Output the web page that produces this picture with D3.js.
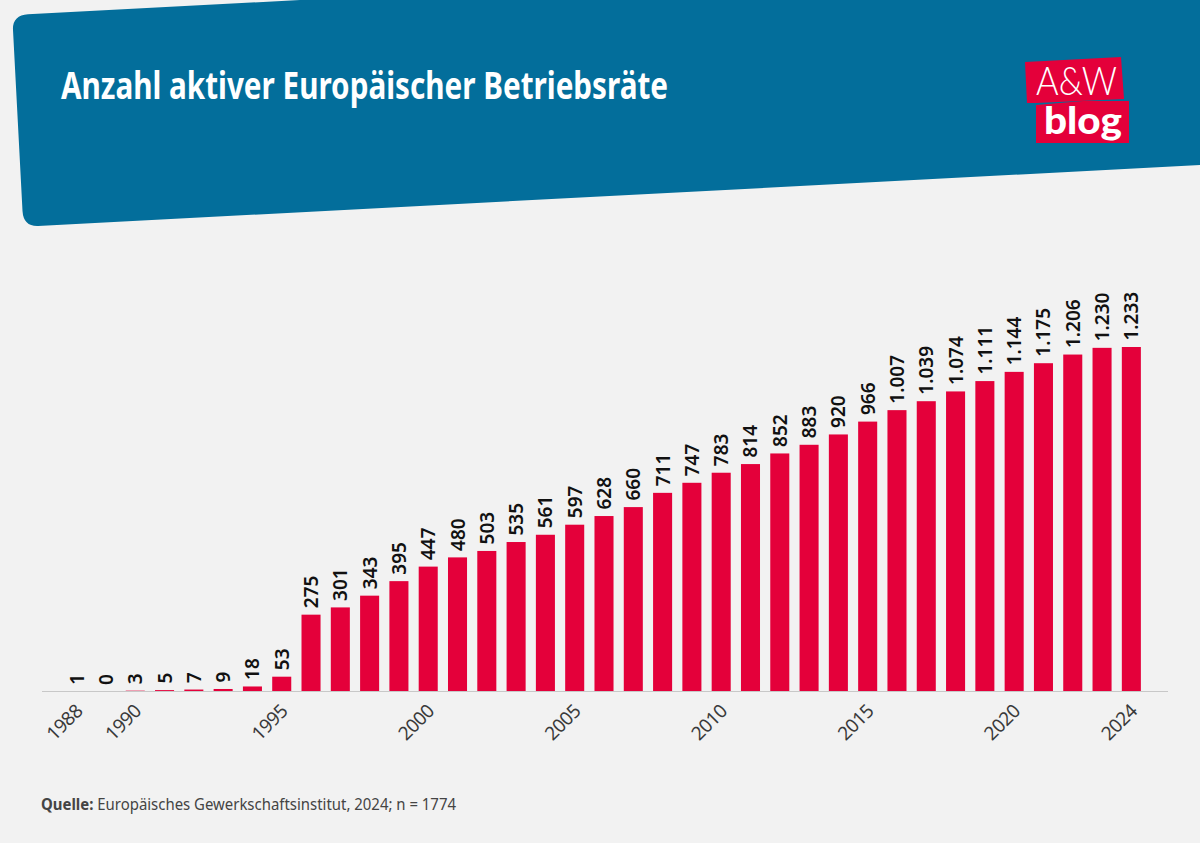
<!DOCTYPE html>
<html><head><meta charset="utf-8">
<script src="https://cdn.jsdelivr.net/npm/d3@7"></script>
<style>
html,body{margin:0;padding:0;background:#f2f2f2;overflow:hidden}
svg{display:block}
text{font-family:"Noto Sans","Open Sans",sans-serif}
</style></head><body>
<svg id="c" width="1200" height="843"></svg>
<script>
const titleText="Anzahl aktiver Europäischer Betriebsräte";
const years=d3.range(1988,2025);
const values=[1,0,3,5,7,9,18,53,275,301,343,395,447,480,503,535,561,597,628,660,711,747,783,814,852,883,920,966,1007,1039,1074,1111,1144,1175,1206,1230,1233];
const tickYears=[1988,1990,1995,2000,2005,2010,2015,2020,2024];
const sourceBold="Quelle:";
const sourceRest=" Europäisches Gewerkschaftsinstitut, 2024; n = 1774";
const blue="#036e9b",red="#e4003a";
const svg=d3.select("#c");
svg.append("rect").attr("width",1200).attr("height",843).attr("fill","#f2f2f2");
svg.append("path").attr("fill",blue).attr("d","M13 30 Q12.2 15.4 28 14.2 L300 0 L1200 -20 L1200 165 L38 226 Q23.5 226.5 22.5 211 Z");
svg.append("text").attr("x",61).attr("y",99).attr("fill","#fff")
 .attr("textLength",607).attr("lengthAdjust","spacingAndGlyphs")
 .style("font-family","'Liberation Sans Narrow','Noto Sans',sans-serif").style("font-weight",700).style("font-size","37px").text(titleText);
svg.append("path").attr("fill",red).attr("d","M1025 62 L1121 57 L1124 99 L1036 103 L1027 103 Z");
svg.append("path").attr("fill",red).attr("d","M1036 105 L1083 101 L1129 101 L1129 143 L1036 143 Z");
svg.append("text").attr("x",1036).attr("y",95).attr("fill","#fff").attr("textLength",81).attr("lengthAdjust","spacingAndGlyphs")
 .style("font-family","Lato,sans-serif").style("font-weight",300).style("font-size","39px").text("A&W");
svg.append("text").attr("x",1044).attr("y",134).attr("fill","#fff").attr("textLength",78).attr("lengthAdjust","spacingAndGlyphs")
 .style("font-family","Lato,sans-serif").style("font-weight",900).style("font-size","38px").text("blog");
const x=d3.scaleBand().domain(years).range([62,1146]).paddingInner(0.35).paddingOuter(0.175);
const y=d3.scaleLinear().domain([0,1233]).range([691.5,347]);
const de=d3.formatLocale({decimal:",",thousands:".",grouping:[3],currency:["","€"]}).format(",d");
svg.append("g").selectAll("rect").data(values).join("rect")
 .attr("x",(d,i)=>x(years[i])).attr("width",x.bandwidth())
 .attr("y",d=>y(d)).attr("height",d=>y(0)-y(d)).attr("fill",red);
svg.append("g").selectAll("text").data(values).join("text")
 .attr("transform",(d,i)=>`translate(${x(years[i])+x.bandwidth()/2+7},${y(d)-6.5}) rotate(-90)`)
 .attr("fill","#111").style("font-weight",600).style("font-size","19px").text(d=>de(d));
const ax=svg.append("g").attr("transform","translate(0,691.5)")
 .call(d3.axisBottom(x).tickValues(tickYears).tickSize(0).tickFormat(d3.format("d")));
ax.select(".domain").remove();
ax.append("line").attr("x1",42).attr("x2",1168).attr("stroke","#c8c8c8").attr("stroke-width",1);
ax.selectAll(".tick text").attr("fill","#3a3a3a").attr("text-anchor","end").attr("dy",0).attr("y",0)
 .attr("transform","translate(7,21) rotate(-45)").style("font-size","19px").style("letter-spacing","-0.6px").style("font-weight",400).style("font-family","'Noto Sans',sans-serif");
const src=svg.append("text").attr("x",41).attr("y",810).attr("fill","#444").attr("textLength",415).attr("lengthAdjust","spacingAndGlyphs").style("font-size","15.5px");
src.append("tspan").style("font-weight",700).text(sourceBold);
src.append("tspan").text(sourceRest);
</script></body></html>
